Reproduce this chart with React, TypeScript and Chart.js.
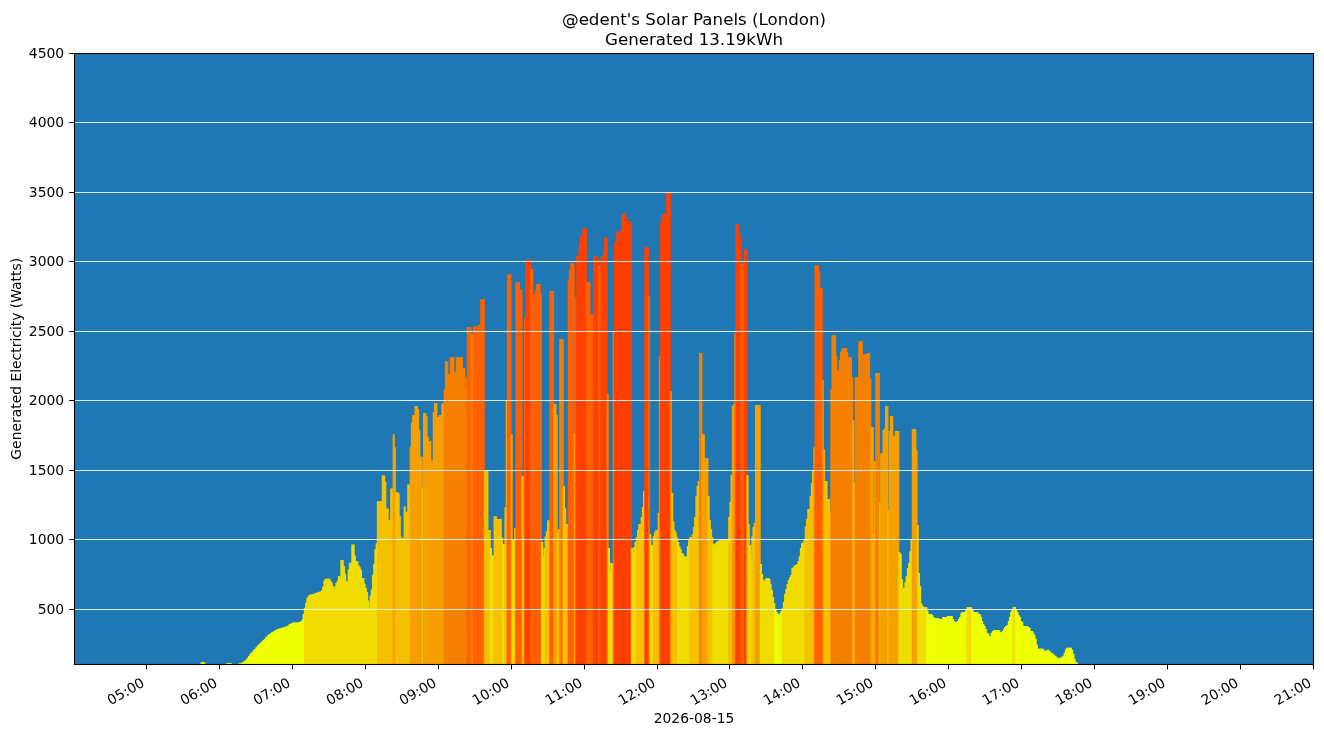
import React, { useEffect, useRef } from 'react';
import { Chart, registerables } from 'chart.js';

Chart.register(...registerables);

// ---- Text ----
const titleLine1 = "@edent's Solar Panels (London)";
const titleLine2 = 'Generated 13.19kWh';
const xAxisTitle = '2026-08-15';
const yAxisTitle = 'Generated Electricity (Watts)';

// ---- Axes ----
const xRangeMinutes = [240, 1260]; // 04:00 .. 21:00
const xTickHours = [5, 6, 7, 8, 9, 10, 11, 12, 13, 14, 15, 16, 17, 18, 19, 20, 21];
const yRange = [100, 4500];
const yTickValues = [500, 1000, 1500, 2000, 2500, 3000, 3500, 4000, 4500];

// ---- Colour bands (W) ----
const bandLimits = [500, 1000, 1500, 2000, 2500, 3000];
const bandColours = ['#eeff00', '#f0dc00', '#f5c000', '#f5a000', '#f58000', '#ff6000', '#ff4000'];

// ---- Generation per minute (Watts), one array per hour ----
const h05 = [
  0, 0, 0, 0, 0, 0, 0, 0, 0, 0, 0, 0, 0, 0, 0, 0, 0, 0, 0, 0,
  0, 0, 0, 0, 0, 0, 0, 0, 0, 0, 0, 0, 0, 0, 0, 0, 0, 0, 0, 0,
  0, 0, 0, 0, 0, 112, 112, 112, 0, 0, 0, 0, 0, 0, 0, 0, 0, 0, 0, 0,
];
const h06 = [
  0, 0, 0, 0, 0, 0, 105, 105, 105, 105, 0, 0, 0, 0, 0, 0, 104, 106, 109, 112,
  118, 124, 135, 145, 158, 170, 180, 190, 200, 208, 218, 228, 238, 246, 255, 263, 272, 280, 292, 300,
  308, 316, 322, 328, 332, 338, 344, 348, 352, 356, 358, 360, 361, 364, 368, 372, 376, 382, 388, 394,
];
const h07 = [
  397, 399, 399, 399, 399, 399, 402, 408, 418, 460, 505, 540, 575, 590, 598, 600, 603, 603, 605, 610,
  615, 617, 620, 622, 630, 656, 700, 713, 713, 713, 713, 697, 685, 660, 641, 660, 685, 700, 733, 733,
  848, 848, 805, 750, 697, 697, 780, 828, 828, 960, 960, 880, 840, 840, 810, 797, 778, 719, 719, 680,
];
const h08 = [
  648, 619, 557, 505, 593, 636, 743, 821, 926, 969, 1271, 1271, 1271, 1271, 1457, 1457, 1414, 1219, 1219, 1136,
  1136, 1362, 1362, 1754, 1660, 1335, 1335, 1326, 1164, 1016, 1009, 1009, 1235, 1195, 1195, 1392, 1392, 1664, 1835, 1892,
  1892, 1957, 1957, 1935, 1785, 1592, 1592, 1369, 1906, 1906, 1885, 1735, 1704, 1704, 1564, 1564, 1914, 1978, 1978, 1878,
];
const h09 = [
  1878, 1891, 1891, 1977, 1977, 2078, 2279, 2279, 2186, 2186, 2308, 2308, 2308, 2200, 2200, 2308, 2308, 2308, 2308, 2308,
  2229, 2229, 2078, 2164, 2524, 2524, 2524, 2474, 2474, 2531, 2531, 2531, 2531, 2538, 2538, 2725, 2725, 2725, 1488, 1488,
  1488, 1064, 1064, 934, 884, 878, 1164, 1164, 1143, 1143, 1143, 1143, 1011, 963, 963, 1227, 1999, 2905, 2905, 2905,
];
const h10 = [
  1754, 992, 995, 1078, 2848, 2848, 2848, 2797, 2797, 1452, 1020, 2589, 3005, 3013, 3013, 3005, 2941, 2941, 2733, 2760,
  2790, 2833, 2833, 2833, 2768, 977, 876, 934, 1020, 1056, 1135, 1135, 2783, 2783, 2783, 1970, 1970, 1891, 1049, 1071,
  2438, 2438, 2438, 1380, 1222, 1107, 1107, 2869, 2941, 2984, 2984, 2984, 1761, 2740, 3042, 3042, 3128, 3178, 3178, 3236,
];
const h11 = [
  3236, 3236, 2848, 2848, 2848, 2617, 2617, 2617, 3032, 3032, 3032, 3013, 2970, 2970, 3032, 3032, 3078, 3171, 3171, 2042,
  934, 769, 826, 826, 2488, 3135, 3142, 3214, 3214, 3214, 3092, 3330, 3344, 3344, 3315, 3282, 3282, 3282, 3282, 934,
  905, 941, 977, 1013, 1064, 1107, 1107, 1157, 1229, 1344, 3099, 3099, 3099, 2747, 1035, 956, 956, 1020, 1049, 1064,
];
const h12 = [
  1064, 1186, 2315, 3279, 3337, 3337, 3337, 3337, 3495, 3495, 3495, 2063, 1330, 1128, 1064, 1047, 1013, 977, 948, 926,
  898, 891, 876, 869, 876, 948, 990, 1013, 1013, 1035, 1085, 1157, 1308, 1380, 1416, 2337, 2337, 1754, 1754, 1581,
  1581, 1581, 1308, 1135, 1071, 1013, 963, 956, 970, 980, 985, 990, 993, 995, 995, 995, 990, 993, 995, 1157,
];
const h13 = [
  1265, 1460, 1956, 1970, 2480, 3265, 3265, 3193, 3178, 2984, 2984, 2920, 3085, 3085, 1460, 1107, 956, 891, 1020, 1085,
  1114, 1963, 1963, 1963, 1963, 819, 747, 704, 694, 711, 718, 718, 711, 675, 632, 582, 538, 495, 474, 459,
  452, 466, 481, 502, 546, 603, 639, 675, 704, 725, 740, 790, 797, 811, 811, 819, 841, 876, 934, 970,
];
const h14 = [
  975, 995, 1092, 1143, 1215, 1215, 1308, 1402, 1488, 1660, 2970, 2970, 2970, 2927, 2804, 2804, 2143, 1645, 1416, 1416,
  1287, 1287, 1198, 2078, 2466, 2466, 2466, 2315, 2214, 2214, 2287, 2344, 2366, 2373, 2373, 2373, 2344, 2308, 2308, 2308,
  2164, 1855, 1402, 2164, 2164, 2164, 2423, 2423, 2423, 2157, 2330, 2330, 2330, 2337, 2337, 2150, 1805, 1805, 1035, 1560,
];
const h15 = [
  2193, 2193, 2193, 1258, 1617, 1617, 1783, 1797, 1956, 1956, 1207, 1776, 1884, 1884, 1740, 1740, 1776, 1776, 1776, 905,
  891, 711, 639, 646, 689, 733, 790, 826, 912, 999, 1790, 1790, 1790, 1639, 1100, 754, 661, 538, 517, 510,
  510, 510, 481, 459, 459, 459, 452, 438, 430, 430, 430, 430, 423, 423, 423, 438, 438, 438, 438, 445,
];
const h16 = [
  445, 445, 445, 423, 409, 402, 402, 409, 423, 438, 466, 474, 474, 474, 488, 510, 510, 510, 510, 488,
  474, 474, 474, 474, 460, 460, 438, 410, 388, 374, 352, 324, 317, 302, 302, 324, 338, 345, 345, 345,
  345, 345, 331, 324, 338, 352, 367, 374, 381, 410, 438, 474, 495, 510, 510, 495, 474, 452, 438, 410,
];
const h17 = [
  402, 374, 374, 374, 374, 367, 360, 338, 338, 324, 309, 281, 238, 210, 210, 210, 210, 210, 195, 195,
  195, 202, 195, 188, 181, 174, 167, 160, 152, 145, 138, 145, 138, 152, 160, 181, 202, 217, 217, 217,
  217, 202, 174, 138, 117, 110, 0, 0, 0, 0, 0, 0, 0, 0, 0, 0, 0, 0, 0, 0,
];

const hourTable: [number, number[]][] = [
  [5, h05], [6, h06], [7, h07], [8, h08], [9, h09], [10, h10], [11, h11],
  [12, h12], [13, h13], [14, h14], [15, h15], [16, h16], [17, h17],
];

const pad2 = (n: number) => String(n).padStart(2, '0');
const bandColour = (v: number) => bandColours[bandLimits.filter((l) => v >= l).length];

const FONT = "'DejaVu Sans', 'Liberation Sans', sans-serif";

const decorPlugin = {
  id: 'decor',
  beforeDraw(chart: any) {
    const { ctx, chartArea: a } = chart;
    ctx.save();
    ctx.fillStyle = '#ffffff';
    ctx.fillRect(0, 0, chart.width, chart.height);
    ctx.fillStyle = '#1f77b4';
    ctx.fillRect(a.left, a.top, a.right - a.left, a.bottom - a.top);
    ctx.restore();
  },
  afterDatasetsDraw(chart: any) {
    const { ctx, chartArea: a } = chart;
    const xs = chart.scales.x;
    const ys = chart.scales.y;
    ctx.save();

    // horizontal grid lines drawn over the bars
    ctx.strokeStyle = 'rgba(255,255,255,0.85)';
    ctx.lineWidth = 1;
    yTickValues.forEach((v) => {
      const y = Math.round(ys.getPixelForValue(v)) + 0.5;
      ctx.beginPath();
      ctx.moveTo(a.left, y);
      ctx.lineTo(a.right, y);
      ctx.stroke();
    });

    // frame
    ctx.strokeStyle = '#000000';
    ctx.lineWidth = 1.1;
    ctx.strokeRect(Math.round(a.left) + 0.5, Math.round(a.top) + 0.5,
      Math.round(a.right) - Math.round(a.left) - 1, Math.round(a.bottom) - Math.round(a.top) - 1);

    // ticks
    ctx.lineWidth = 1;
    const tickLen = 4.9;
    ctx.fillStyle = '#000000';
    ctx.font = `13.9px ${FONT}`;
    yTickValues.forEach((v) => {
      const y = Math.round(ys.getPixelForValue(v)) + 0.5;
      ctx.beginPath();
      ctx.moveTo(a.left - tickLen, y);
      ctx.lineTo(a.left, y);
      ctx.stroke();
      ctx.textAlign = 'right';
      ctx.textBaseline = 'alphabetic';
      ctx.fillText(String(v), a.left - 2 * tickLen, y + 4.6);
    });
    xTickHours.forEach((h) => {
      const x = Math.round(xs.getPixelForValue(h * 60)) - 0.5;
      ctx.beginPath();
      ctx.moveTo(x, a.bottom);
      ctx.lineTo(x, a.bottom + tickLen);
      ctx.stroke();
      ctx.save();
      ctx.translate(x - 1, a.bottom + 21);
      ctx.rotate(-Math.PI / 6);
      ctx.textAlign = 'right';
      ctx.textBaseline = 'alphabetic';
      ctx.fillText(`${pad2(h)}:00`, 0, 0);
      ctx.restore();
    });

    // axis titles
    ctx.textAlign = 'center';
    ctx.textBaseline = 'alphabetic';
    ctx.fillText(xAxisTitle, (a.left + a.right) / 2, 723);
    ctx.save();
    ctx.translate(21, (a.top + a.bottom) / 2);
    ctx.rotate(-Math.PI / 2);
    ctx.fillText(yAxisTitle, 0, 0);
    ctx.restore();

    // chart title
    ctx.font = `16.67px ${FONT}`;
    ctx.fillText(titleLine1, (a.left + a.right) / 2, 25.3);
    ctx.fillText(titleLine2, (a.left + a.right) / 2, 44.7);

    ctx.restore();
  },
};

export default function App() {
  const canvasRef = useRef<HTMLCanvasElement | null>(null);

  useEffect(() => {
    const canvas = canvasRef.current;
    if (!canvas) return;
    const points: { x: number; y: number }[] = [];
    hourTable.forEach(([hour, values]) => {
      values.forEach((v, i) => {
        if (v > 0) points.push({ x: hour * 60 + i, y: v });
      });
    });
    const colours = points.map((p) => bandColour(p.y));

    const chart = new Chart(canvas, {
      type: 'bar',
      data: {
        datasets: [
          {
            data: points as any,
            backgroundColor: colours,
            borderWidth: 0,
            inflateAmount: 0.5,
            barPercentage: 1,
            categoryPercentage: 1,
          } as any,
        ],
      },
      options: {
        animation: false,
        responsive: false,
        events: [],
        layout: { padding: { left: 74, top: 53, right: 10, bottom: 71.5 } },
        plugins: {
          legend: { display: false },
          tooltip: { enabled: false },
          title: { display: false },
        },
        scales: {
          x: {
            type: 'linear',
            min: xRangeMinutes[0],
            max: xRangeMinutes[1],
            offset: false,
            display: false,
          },
          y: {
            type: 'linear',
            min: yRange[0],
            max: yRange[1],
            beginAtZero: false,
            display: false,
          },
        },
      } as any,
      plugins: [decorPlugin],
    });
    return () => chart.destroy();
  }, []);

  return (
    <div style={{ position: 'fixed', left: 0, top: 0, width: 1324, height: 736, background: '#fff' }}>
      <canvas ref={canvasRef} width={1324} height={736} style={{ display: 'block', width: 1324, height: 736 }} />
    </div>
  );
}
